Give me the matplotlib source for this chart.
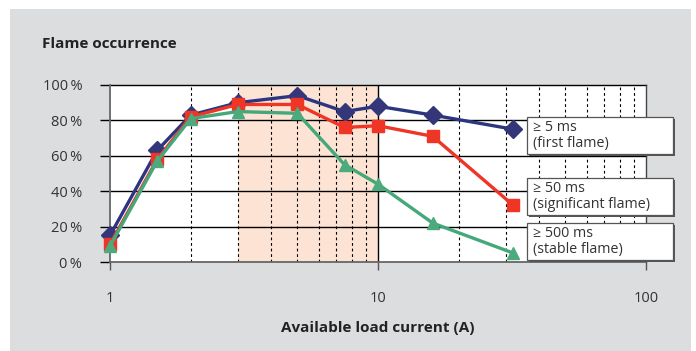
import matplotlib
matplotlib.use("Agg")
import matplotlib.pyplot as plt
from matplotlib.patches import Rectangle
from matplotlib.ticker import FixedLocator, NullFormatter

plt.rcParams['font.family'] = ['Open Sans', 'DejaVu Sans']

# load current (A)
current = [1, 1.5, 2, 3, 5, 7.5, 10, 16, 32]
# flame occurrence (%)
first_flame = [15, 63, 83, 90, 94, 85, 88, 83, 75]
significant_flame = [10, 58, 82, 89, 89, 76, 77, 71, 32]
stable_flame = [9, 57, 81, 85, 84, 55, 44, 22, 5]

legend_texts = ["\u2265 5 ms\n(first flame)",
                "\u2265 50 ms\n(significant flame)",
                "\u2265 500 ms\n(stable flame)"]
y_ticks = [0, 20, 40, 60, 80, 100]
x_ticks = [1, 10, 100]

W, H = 696, 351
fig = plt.figure(figsize=(W / 100, H / 100), dpi=100)
fig.patch.set_facecolor('white')

# grey panel behind everything
fig.add_artist(Rectangle((10 / W, 0), 681 / W, (H - 9) / H, transform=fig.transFigure,
                         facecolor='#dcdddf', edgecolor='none', zorder=-10))

ax = fig.add_axes([110 / W, (H - 262) / H, 536 / W, 177 / H])
ax.set_facecolor('white')
ax.set_xscale('log')
ax.set_xlim(1, 100)
ax.set_ylim(0, 100)

# shaded band
ax.axvspan(3, 10, color='#fde3d3', lw=0, zorder=0)

# grid
minor = [m * d for d in (1, 10) for m in range(2, 10)]
for v in minor:
    ax.axvline(v, color='black', lw=0.8, ls=(0, (2.5, 2.5)), zorder=1)
ax.axvline(10, color='black', lw=1.0, zorder=1)
for v in y_ticks[1:]:
    ax.axhline(v, color='black', lw=1.0, zorder=1, clip_on=False)

ax.plot(current, first_flame, color='#2b3580', lw=2.4, marker='D', ms=9,
        markerfacecolor='#33377a', markeredgecolor='#33377a', zorder=3, clip_on=False)
ax.plot(current, significant_flame, color='#ee3526', lw=2.4, marker='s', ms=8,
        zorder=4, clip_on=False)
ax.plot(current, stable_flame, color='#45a87a', lw=2.4, marker='^', ms=9,
        markerfacecolor='#4daa7c', markeredgecolor='#4daa7c', zorder=5, clip_on=False)

ax.spines['top'].set_visible(False)
for s in ['left', 'bottom', 'right']:
    ax.spines[s].set_color('#666666')
    ax.spines[s].set_linewidth(1.3)
ax.spines['right'].set_color('#444444')
ax.spines['right'].set_linewidth(1.0)

ax.yaxis.set_major_locator(FixedLocator(y_ticks))
ax.set_yticklabels([f"{v}\u2009%" for v in y_ticks])
ax.xaxis.set_major_locator(FixedLocator(x_ticks))
ax.set_xticklabels([str(v) for v in x_ticks])
ax.xaxis.set_minor_locator(FixedLocator([]))
ax.xaxis.set_minor_formatter(NullFormatter())
ax.tick_params(axis='y', length=7, width=1.0, color='black', pad=13,
               labelsize=10.5, labelcolor='#333333')
ax.tick_params(axis='x', length=6, width=1.0, color='#555555', pad=15,
               labelsize=10.5, labelcolor='#333333')

ax.set_xlabel("Available load current (A)", fontsize=11, fontweight='bold',
              color='#222222', labelpad=11)
fig.text(42 / W, (H - 44) / H, "Flame occurrence", fontsize=11, fontweight='bold',
         color='#222222', va='center', ha='left')

# label boxes
box_tops = [117, 178, 223]
for top, txt in zip(box_tops, legend_texts):
    h = 37
    fig.add_artist(Rectangle(((527 + 1.5) / W, (H - top - h - 1.5) / H), 146 / W, h / H,
                             transform=fig.transFigure, facecolor='#555555',
                             edgecolor='none', zorder=8))
    fig.add_artist(Rectangle((527 / W, (H - top - h) / H), 146 / W, h / H,
                             transform=fig.transFigure, facecolor='white',
                             edgecolor='#555555', lw=0.9, zorder=9))
    fig.text(533 / W, (H - top - h / 2) / H, txt, fontsize=10.3, color='#333333',
             va='center', ha='left', linespacing=1.05, zorder=10)

fig.savefig('out.png', dpi=100)
